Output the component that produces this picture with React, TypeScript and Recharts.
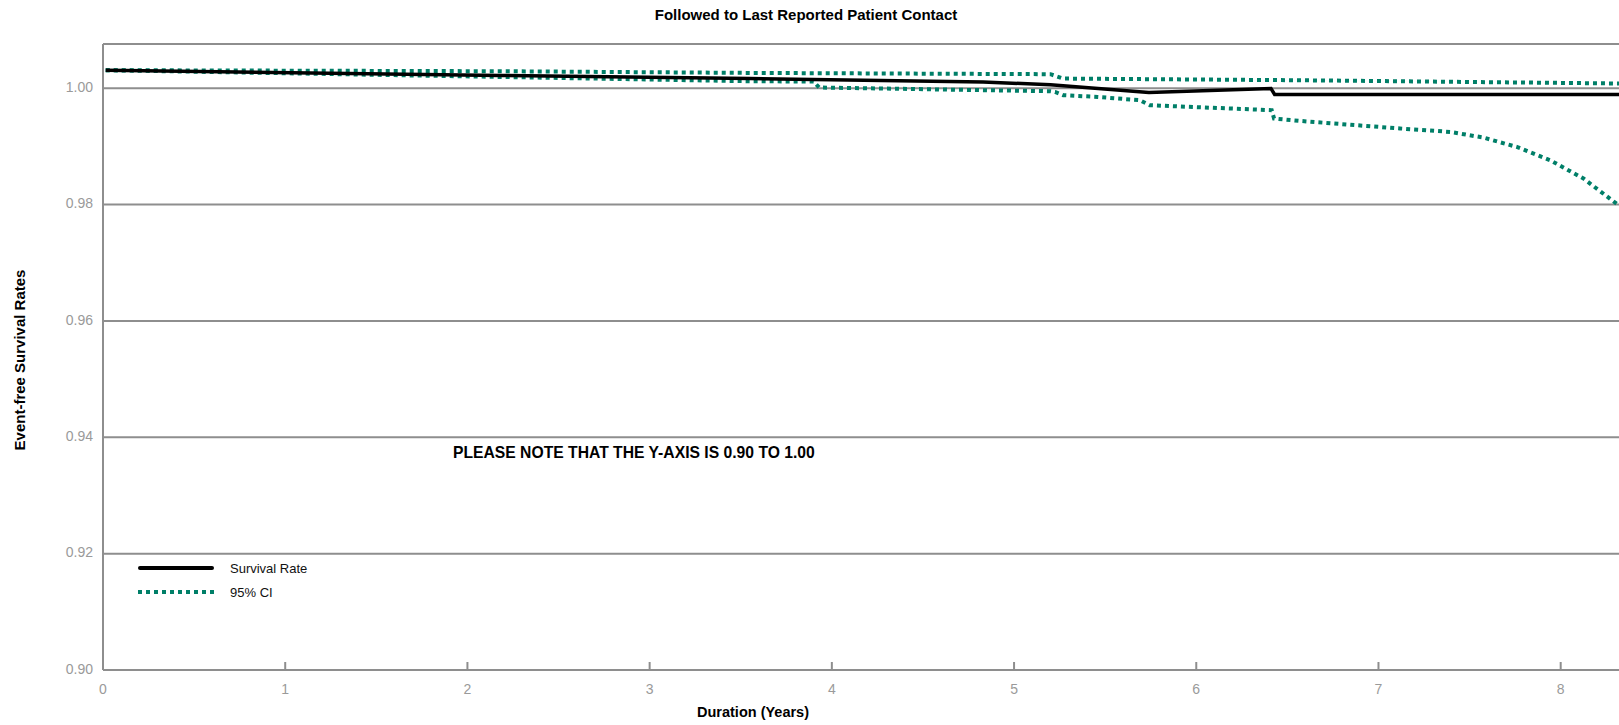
import React from 'react';
import {
  LineChart,
  Line,
  XAxis,
  YAxis,
  CartesianGrid,
  ReferenceLine,
} from 'recharts';

// ─── Data ─────────────────────────────────────────────────────────────────────

const survivalYears = [0.015, 2.18, 3.55, 4.83, 5.2, 5.74, 6.41, 6.43, 8.32];
const survivalRate = [
  1.0031, 1.0022, 1.00167, 1.00108, 1.0006, 0.99926, 0.99995, 0.99892, 0.99892,
];

const upperYears = [0.015, 2.18, 3.55, 5.2, 5.27, 6.57, 8.32];
const upperCI = [1.0031, 1.00292, 1.00263, 1.00241, 1.00166, 1.00137, 1.00081];

const lowerYears = [
  0.015, 2.18, 3.55, 3.9, 3.93, 5.2, 5.225, 5.27, 5.46, 5.69, 5.745, 6.414,
  6.427, 6.57, 6.753, 7.118, 7.393, 7.574, 7.759, 7.942, 8.125, 8.317,
];
const lowerCI = [
  1.0031, 1.00194, 1.0012, 1.00115, 1.00012, 0.99948, 0.99936, 0.9988, 0.9985,
  0.99794, 0.99708, 0.99622, 0.99479, 0.99438, 0.99394, 0.99308, 0.99249,
  0.99153, 0.98991, 0.98763, 0.98448, 0.9799,
];

const xTicks = [0, 1, 2, 3, 4, 5, 6, 7, 8];
const yTicks = [0.9, 0.92, 0.94, 0.96, 0.98, 1.0];
const X_MAX = 8.32;
const Y_MIN = 0.9;
const Y_MAX = 1.0076;

const toRows = (xs: number[], ys: number[]) =>
  xs.map((x, i) => ({ year: x, value: ys[i] }));

const survivalData = toRows(survivalYears, survivalRate);
const upperData = toRows(upperYears, upperCI);
const lowerData = toRows(lowerYears, lowerCI);

// ─── Styles ───────────────────────────────────────────────────────────────────

const GRID = '#8e8e8e';
const TICK_TEXT = '#9a9a9a';
const TEAL = '#007f68';
const SANS = '"Liberation Sans", Arial, sans-serif';

function XTick(props: any) {
  const { x, y, payload } = props;
  return (
    <g>
      {payload.value !== 0 && (
        <line x1={x} y1={y} x2={x} y2={y - 8} stroke={GRID} strokeWidth={2} />
      )}
      <text
        x={x}
        y={y + 20}
        textAnchor="middle"
        dominantBaseline="middle"
        fill={TICK_TEXT}
        fontSize={14}
        fontFamily={SANS}
      >
        {payload.value}
      </text>
    </g>
  );
}

function YTick(props: any) {
  const { x, y, payload } = props;
  return (
    <text
      x={x - 10}
      y={y}
      textAnchor="end"
      dominantBaseline="middle"
      fill={TICK_TEXT}
      fontSize={14}
      fontFamily={SANS}
    >
      {payload.value.toFixed(2)}
    </text>
  );
}

function LegendBox() {
  return (
    <div
      style={{
        position: 'absolute',
        left: 138,
        top: 556,
        fontFamily: SANS,
        fontSize: 13,
        color: '#111',
      }}
    >
      <div style={{ display: 'flex', alignItems: 'center', height: 24 }}>
        <svg width={92} height={10}>
          <line x1={2} y1={5} x2={74} y2={5} stroke="#000" strokeWidth={4} strokeLinecap="round" />
        </svg>
        <span>Survival Rate</span>
      </div>
      <div style={{ display: 'flex', alignItems: 'center', height: 24 }}>
        <svg width={92} height={10}>
          <line x1={0} y1={5} x2={79} y2={5} stroke={TEAL} strokeWidth={4} strokeDasharray="4 4" />
        </svg>
        <span>95% CI</span>
      </div>
    </div>
  );
}

const bold = {
  position: 'absolute' as const,
  whiteSpace: 'nowrap' as const,
  fontFamily: SANS,
  fontWeight: 'bold' as const,
  color: '#000',
};

export default function App() {
  return (
    <div style={{ position: 'absolute', left: 0, top: 0, width: 1619, height: 725, background: '#fff' }}>
      <LineChart
        width={1619}
        height={725}
        margin={{ top: 44, right: 0, bottom: 0, left: 0 }}
        style={{ position: 'absolute', left: 0, top: 0 }}
      >
        <CartesianGrid vertical={false} stroke={GRID} strokeWidth={2} />
        <XAxis
          type="number"
          dataKey="year"
          domain={[0, X_MAX]}
          ticks={xTicks}
          allowDataOverflow
          height={55}
          tickSize={0}
          tickMargin={0}
          tickLine={false}
          axisLine={{ stroke: GRID, strokeWidth: 2 }}
          tick={<XTick />}
        />
        <YAxis
          type="number"
          domain={[Y_MIN, Y_MAX]}
          ticks={yTicks}
          allowDataOverflow
          width={103}
          tickSize={0}
          tickMargin={0}
          tickLine={false}
          axisLine={{ stroke: GRID, strokeWidth: 2 }}
          tick={<YTick />}
        />
        <ReferenceLine y={Y_MAX} stroke={GRID} strokeWidth={2} />
        <Line
          data={upperData}
          dataKey="value"
          type="linear"
          stroke={TEAL}
          strokeWidth={4}
          strokeDasharray="4 4"
          dot={false}
          isAnimationActive={false}
        />
        <Line
          data={lowerData}
          dataKey="value"
          type="linear"
          stroke={TEAL}
          strokeWidth={4}
          strokeDasharray="4 4"
          dot={false}
          isAnimationActive={false}
        />
        <Line
          data={survivalData}
          dataKey="value"
          type="linear"
          stroke="#000"
          strokeWidth={3.5}
          dot={false}
          isAnimationActive={false}
        />
      </LineChart>

      <div style={{ ...bold, left: 0, width: 1612, top: 6, textAlign: 'center', fontSize: 15 }}>
        Followed to Last Reported Patient Contact
      </div>
      <div
        style={{
          ...bold,
          left: 19,
          top: 360,
          transform: 'translate(-50%, -50%) rotate(-90deg)',
          fontSize: 15,
        }}
      >
        Event-free Survival Rates
      </div>
      <div style={{ ...bold, left: 453, top: 444, fontSize: 15.7 }}>
        PLEASE NOTE THAT THE Y-AXIS IS 0.90 TO 1.00
      </div>
      <div style={{ ...bold, left: 0, width: 1506, top: 704, textAlign: 'center', fontSize: 14.5 }}>
        Duration (Years)
      </div>
      <LegendBox />
    </div>
  );
}
